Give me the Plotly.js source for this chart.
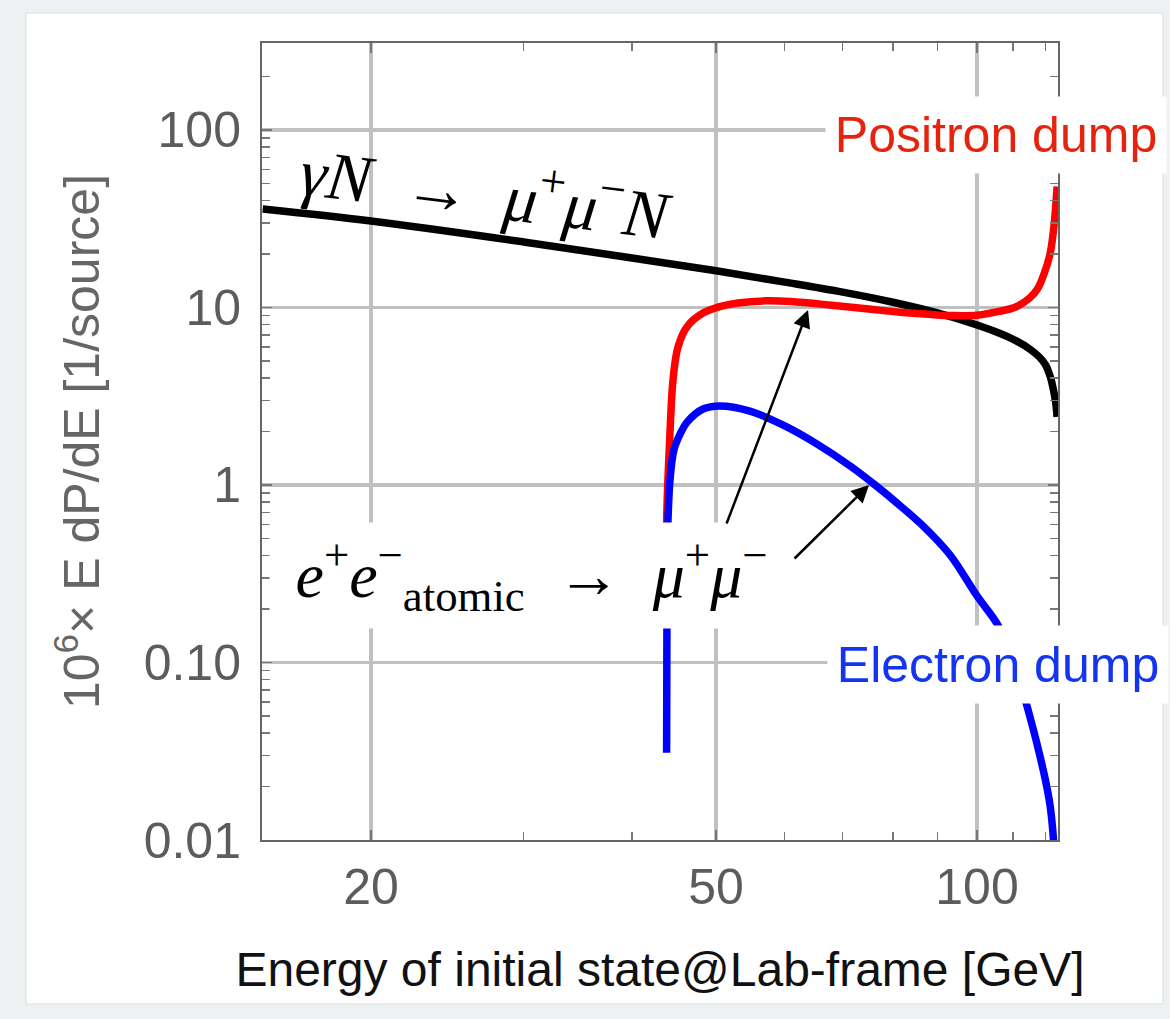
<!DOCTYPE html>
<html>
<head>
<meta charset="utf-8">
<script src="https://cdn.plot.ly/plotly-3.0.1.min.js"></script>
<style>
html,body{margin:0;padding:0;background:#eef1f1;}
#chart{width:1170px;height:1019px;}
</style>
</head>
<body>
<div id="chart"></div>
<script>
// ---- data (E in GeV, value = 10^6 x E dP/dE) ----
const gammaE = [15, 20, 30, 40, 50, 60, 70, 80, 90, 100, 106, 111, 115, 118, 120, 121.5, 122.5, 123.2, 123.7];
const gammaV = [35.9, 30.7, 23.4, 19.0, 16.1, 13.9, 12.2, 10.7, 9.31, 7.97, 7.18, 6.48, 5.84, 5.26, 4.74, 4.06, 3.43, 2.94, 2.42];

const positronE = [43.8, 43.85, 44.0, 44.25, 44.6, 45.2, 46.3, 48.3, 50.5, 53, 57, 61, 68, 75, 81.5, 88, 94, 100, 106, 111, 115, 117.5, 119.5, 121.4, 122.7, 123.7];
const positronV = [0.3, 0.61, 1.07, 2.0, 3.9, 6.0, 7.8, 9.3, 10.1, 10.6, 10.9, 10.8, 10.3, 9.8, 9.4, 9.15, 9.0, 9.05, 9.5, 10.1, 11.3, 12.8, 15.5, 20, 29, 48];

const electronE = [43.85, 43.9, 44.0, 44.25, 44.7, 45.5, 46.3, 48.3, 50.5, 54.7, 59.7, 65.4, 71.4, 76.3, 81.5, 87.1, 93.1, 100, 105.5, 109.7, 113, 116, 118.2, 120.1, 121.4, 122.4, 123.0];
const electronV = [0.031, 0.3, 0.61, 1.07, 1.57, 1.96, 2.26, 2.68, 2.79, 2.61, 2.18, 1.70, 1.28, 1.0, 0.766, 0.573, 0.403, 0.237, 0.165, 0.110, 0.0682, 0.0428, 0.0297, 0.021, 0.0157, 0.0107, 0.0068];

// ---- ticks ----
const xTickVals = [20, 50, 100];
const xTickText = ['20', '50', '100'];
const xMinorVals = [30, 40, 60, 70, 80, 90, 110, 120];
const yTickVals = [0.01, 0.1, 1, 10, 100];
const yTickText = ['0.01', '0.10', '1', '10', '100'];
const yMinorVals = [0.02,0.03,0.04,0.05,0.06,0.07,0.08,0.09,
                    0.2,0.3,0.4,0.5,0.6,0.7,0.8,0.9,
                    2,3,4,5,6,7,8,9,
                    20,30,40,50,60,70,80,90,200];

// ---- labels ----
const xTitle = 'Energy of initial state@Lab-frame [GeV]';
const yTitle = '10<sup>6</sup>× E dP/dE [1/source]';
const gammaLabel = '<i>γN</i>\u2002→\u2002<i>μ</i><sup>+</sup><i>μ</i><sup>−</sup><i>N</i>';
const eeLabel = '<i>e</i><sup>+</sup><i>e</i><sup>−</sup><sub>atomic</sub>\u2002→\u2002<i>μ</i><sup>+</sup><i>μ</i><sup>−</sup>';
const positronLabel = 'Positron dump';
const electronLabel = 'Electron dump';

const L = Math.log10;
const serif = 'Liberation Serif, Times New Roman, serif';
const sans = 'Liberation Sans, Arial, Helvetica, sans-serif';

const lineStyle = (c) => ({color: c, width: 7.5, shape: 'spline', smoothing: 1.0});

const traces = [
  {x: gammaE, y: gammaV, type: 'scatter', mode: 'lines', line: lineStyle('#000000'), name: 'γN → μ+μ−N'},
  {x: positronE, y: positronV, type: 'scatter', mode: 'lines', line: lineStyle('#ff0000'), name: 'Positron dump'},
  {x: electronE, y: electronV, type: 'scatter', mode: 'lines', line: lineStyle('#0000ff'), name: 'Electron dump'}
];

const axisCommon = {
  type: 'log',
  showline: true, linecolor: '#666666', linewidth: 2, mirror: 'ticks',
  ticks: 'inside', ticklen: 10, tickwidth: 1.5, tickcolor: '#777',
  showgrid: true, gridcolor: '#c0c0c0', gridwidth: 3.5,
  zeroline: false,
  tickfont: {family: sans, size: 50, color: '#5c5c5c'},
  tickmode: 'array'
};

const layout = {
  width: 1170, height: 1019,
  margin: {l: 262, r: 112, t: 43, b: 179},
  paper_bgcolor: '#eef1f1',
  plot_bgcolor: '#ffffff',
  showlegend: false,
  font: {family: sans},
  xaxis: Object.assign({}, axisCommon, {
    range: [1.1753, 2.0934],
    tickvals: xTickVals, ticktext: xTickText,
    minor: {tickmode: 'array', tickvals: xMinorVals, ticks: 'inside', ticklen: 8, tickwidth: 1.5, tickcolor: '#777', showgrid: false},
    title: {text: xTitle, font: {family: sans, size: 48, color: '#111'}, standoff: 38},
    ticklabelstandoff: 2
  }),
  yaxis: Object.assign({}, axisCommon, {
    range: [-2, 2.49],
    tickvals: yTickVals, ticktext: yTickText,
    minor: {tickmode: 'array', tickvals: yMinorVals, ticks: 'inside', ticklen: 8, tickwidth: 1.5, tickcolor: '#777', showgrid: false},
    title: {text: yTitle, font: {family: sans, size: 50, color: '#666'}, standoff: 28},
    ticklabelstandoff: 9
  }),
  shapes: [
    {type: 'rect', xref: 'paper', yref: 'paper', x0: -0.2965, x1: 1.1319, y0: -0.2058, y1: 1.0376,
     fillcolor: '#ffffff', line: {color: '#dadfdf', width: 1}, layer: 'below'}
  ],
  annotations: [
    {xref: 'x', yref: 'y', x: L(27.2), y: L(46.5), text: gammaLabel, showarrow: false,
     textangle: 7, font: {family: serif, size: 67, color: '#000'}},
    {xref: 'x', yref: 'y', x: L(30.6), y: L(0.309), text: eeLabel, showarrow: false,
     width: 523, height: 105, bgcolor: '#ffffff', borderpad: 0,
     font: {family: serif, size: 64, color: '#000'}},
    {xref: 'x', yref: 'y', x: 1.8051, y: 0.986, axref: 'x', ayref: 'y', ax: 1.7105, ay: -0.2254,
     text: '', showarrow: true, arrowhead: 2, arrowsize: 1.4, arrowwidth: 2.5, arrowcolor: '#000',
     standoff: 0, startstandoff: 0, font: {size: 1}},
    {xref: 'x', yref: 'y', x: 1.8754, y: 0.0, axref: 'x', ayref: 'y', ax: 1.7878, ay: -0.4225,
     text: '', showarrow: true, arrowhead: 2, arrowsize: 1.4, arrowwidth: 2.5, arrowcolor: '#000',
     standoff: 0, startstandoff: 0, font: {size: 1}},
    {xref: 'x', yref: 'y', x: 2.0219, y: 1.972, text: positronLabel, showarrow: false,
     width: 340, height: 76, bgcolor: '#ffffff', borderpad: 0,
     font: {family: sans, size: 50, color: '#e52410'}},
    {xref: 'x', yref: 'y', x: 2.0242, y: -1.0085, text: electronLabel, showarrow: false,
     width: 340, height: 77, bgcolor: '#ffffff', borderpad: 0,
     font: {family: sans, size: 50, color: '#1434f0'}}
  ]
};

Plotly.newPlot('chart', traces, layout, {displayModeBar: false, staticPlot: true});
</script>
</body>
</html>
